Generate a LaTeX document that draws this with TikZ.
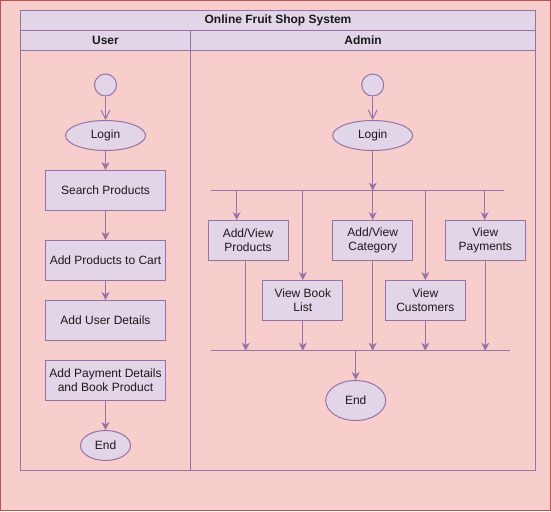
\documentclass[tikz,border=0pt]{standalone}
\usepackage{fontspec}
\setmainfont{Liberation Sans}
\usetikzlibrary{arrows.meta,shapes.geometric}
\definecolor{bgpink}{HTML}{F8CECC}
\definecolor{bgred}{HTML}{B85450}
\definecolor{lilac}{HTML}{E1D5E7}
\definecolor{violet}{HTML}{9673A6}
\definecolor{txt}{HTML}{1A1A1A}
\begin{document}
\begin{tikzpicture}[x=1pt,y=-1pt,
  every node/.style={font=\fontsize{12}{14}\selectfont, text=txt},
  actbox/.style={rectangle, draw=violet, fill=lilac, line width=1pt, minimum width=120pt, minimum height=40pt, inner sep=0pt, align=center},
  smallbox/.style={actbox, minimum width=80pt},
  ell/.style={ellipse, draw=violet, fill=lilac, line width=1pt, minimum width=80pt, minimum height=30pt, inner sep=0pt},
  startc/.style={circle, draw=violet, fill=lilac, line width=1pt, minimum size=22pt, inner sep=0pt},
  flow/.style={draw=violet, line width=1pt, -{Stealth[length=8pt,width=8pt,inset=2.5pt]}},
  openflow/.style={draw=violet, line width=1pt, -{Straight Barb[length=9pt,width=9pt]}},
  bar/.style={draw=violet, line width=1pt}
]
\useasboundingbox (0,0) rectangle (551,511);
% background
\draw[fill=bgpink, draw=bgred, line width=1pt] (0.5,0.5) rectangle (550.5,510.5);
% pool
\fill[lilac] (20.5,10.5) rectangle (535.5,50.5);
\draw[violet, line width=1pt] (20.5,10.5) rectangle (535.5,470.5);
\draw[violet, line width=1pt] (20.5,30.5) -- (535.5,30.5);
\draw[violet, line width=1pt] (20.5,50.5) -- (535.5,50.5);
\draw[violet, line width=1pt] (190.5,30.5) -- (190.5,470.5);
\node[font=\fontsize{12}{14}\selectfont\bfseries] (title) at (278,20.5) {Online Fruit Shop System};
\node[font=\fontsize{12}{14}\selectfont\bfseries] (huser) at (105.5,40.5) {User};
\node[font=\fontsize{12}{14}\selectfont\bfseries] (hadmin) at (363,40.5) {Admin};

% user lane
\node[startc] (us) at (105.5,85) {};
\node[ell] (ul) at (105.5,135.5) {Login};
\node[actbox] (u1) at (105.5,190.5) {Search Products};
\node[actbox] (u2) at (105.5,260.5) {Add Products to Cart};
\node[actbox] (u3) at (105.5,320.5) {Add User Details};
\node[actbox] (u4) at (105.5,380.5) {Add Payment Details\\and Book Product};
\node[ell, minimum width=50pt] (ue) at (105.5,445.5) {End};
\draw[openflow] (us) -- (ul);
\draw[flow] (ul) -- (u1);
\draw[flow] (u1) -- (u2);
\draw[flow] (u2) -- (u3);
\draw[flow] (u4) -- (ue);

% admin lane
\node[startc] (as) at (372.7,85) {};
\node[ell] (al) at (372.7,135.5) {Login};
\coordinate (fl) at (210.7,190.7);
\coordinate (fr) at (504,190.7);
\coordinate (fm) at (372.7,190.7);
\draw[bar] (fl) -- (fr);
\draw[openflow] (as) -- (al);
\draw[flow] (al) -- (fm);

\node[smallbox] (a1) at (248,240.5) {Add/View\\Products};
\node[smallbox] (a2) at (302.8,300.5) {View Book\\List};
\node[smallbox] (a3) at (372.7,240.5) {Add/View\\Category};
\node[smallbox] (a4) at (425.3,300.5) {View\\Customers};
\node[smallbox] (a5) at (485.3,240.5) {View\\Payments};

\coordinate (f1) at (236.7,190.7);
\coordinate (f2) at (302.8,190.7);
\coordinate (f3) at (372.7,190.7);
\coordinate (f4) at (425.3,190.7);
\coordinate (f5) at (484.7,190.7);
\draw[flow] (f1) -- (f1 |- a1.north);
\draw[flow] (f2) -- (a2);
\draw[flow] (f3) -- (a3);
\draw[flow] (f4) -- (a4);
\draw[flow] (f5) -- (f5 |- a5.north);

\coordinate (jl) at (210.7,350.7);
\coordinate (jr) at (510,350.7);
\draw[bar] (jl) -- (jr);
\coordinate (j1) at (245.7,350.7);
\coordinate (j2) at (302.8,350.7);
\coordinate (j3) at (372.7,350.7);
\coordinate (j4) at (425.3,350.7);
\coordinate (j5) at (485.3,350.7);
\draw[flow] (a1.south -| j1) -- (j1);
\draw[flow] (a2) -- (j2);
\draw[flow] (a3) -- (j3);
\draw[flow] (a4) -- (j4);
\draw[flow] (a5) -- (j5);

\node[ell, minimum width=60pt, minimum height=40pt] (ae) at (355.7,400.5) {End};
\coordinate (jm) at (355.7,350.7);
\draw[flow] (jm) -- (ae);
\end{tikzpicture}
\end{document}
